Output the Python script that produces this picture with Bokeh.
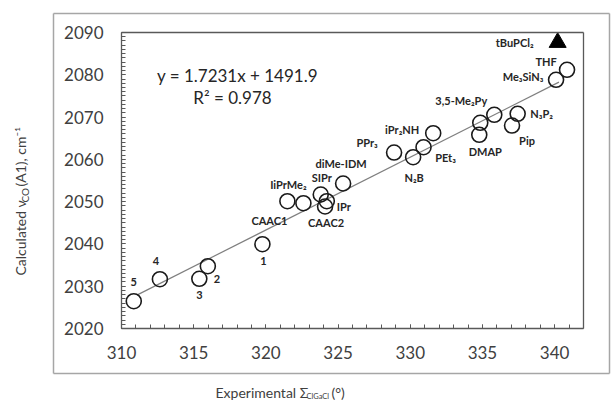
import math
from bokeh.plotting import figure
from bokeh.models import (ColumnDataSource, Label, SingleIntervalTicker,
                          FixedTicker, Range1d, LinearAxis)
from bokeh.core.properties import value
from bokeh.embed import file_html
from bokeh.resources import INLINE

# ---- data ----
point_x = [310.85, 312.66, 315.39, 315.98, 319.76, 321.49, 322.60, 323.80, 324.22, 324.10,
           325.35, 328.88, 330.20, 330.92, 331.59, 334.78, 334.85, 335.82, 337.05, 337.44,
           340.10, 340.86]
point_y = [2026.46, 2031.66, 2031.75, 2034.73, 2039.94, 2050.10, 2049.63, 2051.69, 2050.10, 2048.85,
           2054.29, 2061.62, 2060.51, 2062.88, 2066.19, 2065.81, 2068.65, 2070.54, 2068.00, 2070.77,
           2078.81, 2081.18]
point_names = ["5", "4", "3", "2", "1", "IiPrMe₂", "CAAC1", "SIPr", "IPr", "CAAC2",
               "diMe-IDM", "PPr₃", "N₂B", "PEt₃", "iPr₂NH", "DMAP", "", "3,5-Me₂Py", "Pip", "N₃P₂",
               "Me₃SiN₃", "THF"]
# label offsets from the point, in screen pixels (right, down)
label_dx = [0, -4, 0, 9, 1, 1, -34, 1, 17, 1,
            -2, -27, 1, 22, -31, 6, 0, -33, 15, 24,
            -33, -21]
label_dy = [-19, -18, 16, 13, 17, -17, 17, -17, 5, 16,
            -20, -10, 20, 10, -4, 17, 0, -14, 15, 0,
            -3, -8]

outlier_x = [340.21]
outlier_y = [2087.64]
outlier_name = ["tBuPCl₂"]
outlier_dx = [-43]
outlier_dy = [0]

fit_slope = 1.7231
fit_intercept = 1491.9
fit_r2 = 0.978
fit_x = [311.1, 340.3]
fit_y = [fit_slope * v + fit_intercept for v in fit_x]

x_min, x_max, x_step = 310, 342, 5
y_min, y_max, y_step = 2020, 2090, 10

# ---- layout (pixels) ----
W, H = 612, 405
PL, PR, PT, PB = 121, 583, 32, 328          # plot-area edges on the canvas
BL, BR, BT, BB = 53, 609, 13, 373           # outer grey frame on the canvas
sx = (PR - PL) / (x_max - x_min)
sy = (PB - PT) / (y_max - y_min)

def cx(px):  # canvas x -> data x
    return x_min + (px - PL) / sx

def cy(py):  # canvas y -> data y
    return y_min + (PB - py) / sy

FONT = "Lato"
DARK = "#404040"
AXC = "#595959"

p = figure(width=W, height=H, output_backend="svg", toolbar_location=None,
           x_axis_type=None, y_axis_type=None,
           x_range=Range1d(cx(0), cx(W)), y_range=Range1d(cy(H), cy(0)))
p.min_border_left = p.min_border_right = p.min_border_top = p.min_border_bottom = 0
p.background_fill_color = "white"
p.border_fill_color = "white"
p.outline_line_color = None
p.grid.visible = False

def style_axis(ax, labels=True, color=AXC, width=1.3):
    ax.axis_line_color = color
    ax.axis_line_width = width
    ax.major_tick_in = 4
    ax.major_tick_out = 0
    ax.minor_tick_in = 4
    ax.minor_tick_out = 0
    ax.major_tick_line_color = AXC
    ax.minor_tick_line_color = AXC
    ax.major_label_text_font = FONT
    ax.major_label_text_font_size = "17px"
    ax.major_label_text_color = DARK
    if not labels:
        ax.major_label_text_alpha = 0
        ax.major_tick_line_color = None
        ax.minor_tick_line_color = None

# outer grey frame around the chart area (four bare axis lines)
for loc, bnds, side in [(cy(BT), (cx(BL), cx(BR)), "above"), (cy(BB), (cx(BL), cx(BR)), "below"),
                        (cx(BL), (cy(BB), cy(BT)), "left"), (cx(BR), (cy(BB), cy(BT)), "right")]:
    fa = LinearAxis(fixed_location=loc, bounds=bnds, ticker=FixedTicker(ticks=[]))
    style_axis(fa, labels=False, color="#a6a6a6", width=1.5)
    p.add_layout(fa, side)

xa = LinearAxis(fixed_location=y_min, bounds=(x_min, x_max),
                ticker=SingleIntervalTicker(interval=x_step, num_minor_ticks=5))
style_axis(xa)
xa.major_label_standoff = 17
p.add_layout(xa, "below")

ya = LinearAxis(fixed_location=x_min, bounds=(y_min, y_max),
                ticker=SingleIntervalTicker(interval=y_step, num_minor_ticks=10))
style_axis(ya)
ya.major_label_standoff = 18
p.add_layout(ya, "left")

ta = LinearAxis(fixed_location=y_max, bounds=(x_min, x_max), ticker=FixedTicker(ticks=[]))
style_axis(ta, labels=False)
p.add_layout(ta, "above")
ra = LinearAxis(fixed_location=x_max, bounds=(y_min, y_max), ticker=FixedTicker(ticks=[]))
style_axis(ra, labels=False)
p.add_layout(ra, "right")

# trend line
p.line(fit_x, fit_y, line_color="#7f7f7f", line_width=1.2)

src = ColumnDataSource(dict(x=point_x, y=point_y, name=point_names, dx=label_dx, dy=label_dy))
p.scatter("x", "y", source=src, marker="circle", size=15, fill_color="white", fill_alpha=0,
          line_color="#1a1a1a", line_width=1.6)
p.text("x", "y", text="name", source=src, x_offset="dx", y_offset="dy",
       text_align="center", text_baseline="middle", text_font=value(FONT),
       text_font_style="bold", text_font_size="11px", text_color="#262626")

osrc = ColumnDataSource(dict(x=outlier_x, y=outlier_y, name=outlier_name, dx=outlier_dx, dy=outlier_dy))
p.scatter("x", "y", source=osrc, marker="triangle", size=17, fill_color="black", line_color="black")
p.text("x", "y", text="name", source=osrc, x_offset="dx", y_offset="dy",
       text_align="center", text_baseline="middle", text_font=value(FONT),
       text_font_style="bold", text_font_size="11px", text_color="#262626")

# equation
p.add_layout(Label(x=237, y=H - 75, x_units="screen", y_units="screen",
                   text=f"y = {fit_slope}x + {fit_intercept}", text_align="center",
                   text_baseline="middle", text_font=FONT, text_font_size="17px", text_color="#262626"))
p.add_layout(Label(x=232, y=H - 97, x_units="screen", y_units="screen",
                   text=f"R² = {fit_r2}", text_align="center",
                   text_baseline="middle", text_font=FONT, text_font_size="17px", text_color="#262626"))

# y axis title, in pieces (for the subscript)
def ylab(txt, x, y, size):
    p.add_layout(Label(x=x, y=y, x_units="screen", y_units="screen", text=txt, angle=math.pi / 2,
                       text_align="left", text_baseline="middle", text_font=FONT,
                       text_font_size=size, text_color=DARK))

ylab("Calculated ν", 20, H - 275, "14px")
ylab("CO", 24, H - 202, "10px")
ylab("(A1), cm⁻¹", 20, H - 186, "14px")

def xlab(txt, x, y, size):
    p.add_layout(Label(x=x, y=y, x_units="screen", y_units="screen", text=txt,
                       text_align="left", text_baseline="middle", text_font=FONT,
                       text_font_size=size, text_color=DARK))

xlab("Experimental Σ", 215, H - 392, "14px")
xlab("ClGaCl", 306, H - 396, "7.5px")
xlab("(°)", 331, H - 392, "14px")

open("out.html", "w").write(file_html(p, INLINE))
